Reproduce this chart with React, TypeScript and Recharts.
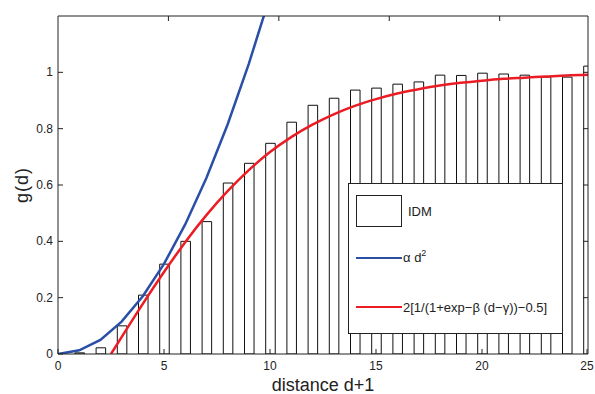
import { ComposedChart, Bar, Line, XAxis, YAxis, Legend } from 'recharts';

// histogram of IDM (bins at d+1 = 1..25)
const binX = [1, 2, 3, 4, 5, 6, 7, 8, 9, 10, 11, 12, 13, 14, 15, 16, 17, 18, 19, 20, 21, 22, 23, 24, 25];
const idmValues = [0.004, 0.022, 0.1, 0.209, 0.319, 0.4, 0.47, 0.607, 0.677, 0.748, 0.823, 0.883, 0.908, 0.937, 0.944, 0.958, 0.966, 0.99, 0.989, 0.997, 0.994, 0.99, 0.983, 0.983, 1.022];

// alpha d^2 fit
const quadX = [0, 1, 2, 3, 4, 5, 6, 7, 8, 9, 10];
const quadY = [0, 0.013, 0.05, 0.115, 0.205, 0.32, 0.46, 0.625, 0.815, 1.03, 1.27];

// logistic fit
const logX = [2.5, 3, 4, 5, 6, 7, 8, 9, 10, 11, 12, 13, 14, 15, 16, 17, 18, 19, 20, 21, 22, 23, 24, 25];
const logY = [0, 0.06, 0.178, 0.291, 0.397, 0.493, 0.578, 0.653, 0.717, 0.77, 0.814, 0.851, 0.881, 0.905, 0.925, 0.94, 0.953, 0.963, 0.97, 0.977, 0.981, 0.985, 0.989, 0.991];

const xTicks = [0, 5, 10, 15, 20, 25];
const yTicks = [0, 0.2, 0.4, 0.6, 0.8, 1];

const barData = binX.map((x, i) => ({ x, idm: idmValues[i] }));
const quadData = quadX.map((x, i) => ({ x, quad: quadY[i] }));
const logData = logX.map((x, i) => ({ x, logi: logY[i] }));

const FONT = '"Liberation Sans", Arial, sans-serif';
const INK = '#222';
const BLUE = '#2a4fa6';
const RED = '#ec1c24';

const BottomTick = (props: any) => {
  const { x, y, payload } = props;
  return (
    <g>
      <line x1={x} y1={y} x2={x} y2={y - 5} stroke={INK} />
      <text x={x} y={y + 16} textAnchor="middle" fontSize={12} fill={INK} fontFamily={FONT}>
        {payload.value}
      </text>
    </g>
  );
};

const LeftTick = (props: any) => {
  const { x, y, payload } = props;
  return (
    <g>
      <line x1={x} y1={y} x2={x + 5} y2={y} stroke={INK} />
      <text x={x - 5} y={y + 4} textAnchor="end" fontSize={12} fill={INK} fontFamily={FONT}>
        {payload.value}
      </text>
    </g>
  );
};

const TopTick = (props: any) => {
  const { x, y } = props;
  return <line x1={x} y1={y} x2={x} y2={y + 5} stroke={INK} />;
};

const RightTick = (props: any) => {
  const { x, y } = props;
  return <line x1={x} y1={y} x2={x - 5} y2={y} stroke={INK} />;
};

const LegendBox = () => (
  <div
    style={{
      width: 215,
      height: 151,
      border: `1px solid ${INK}`,
      background: '#fff',
      boxSizing: 'border-box',
      position: 'relative',
      fontFamily: FONT,
      fontSize: 13,
      color: INK,
      lineHeight: '15px',
      whiteSpace: 'nowrap',
    }}
  >
    <div style={{ position: 'absolute', left: 7, top: 11, width: 46, height: 32, border: `1px solid ${INK}`, boxSizing: 'border-box' }} />
    <span style={{ position: 'absolute', left: 59, top: 20 }}>IDM</span>
    <div style={{ position: 'absolute', left: 7, top: 72.5, width: 46, height: 2.5, background: BLUE }} />
    <span style={{ position: 'absolute', left: 54, top: 66 }}>
      α d<span style={{ fontSize: 9, position: 'relative', top: -6 }}>2</span>
    </span>
    <div style={{ position: 'absolute', left: 7, top: 121.5, width: 46, height: 2.5, background: RED }} />
    <span style={{ position: 'absolute', left: 54, top: 116 }}>2[1/(1+exp−β (d−γ))−0.5]</span>
  </div>
);

export default function App() {
  return (
    <div style={{ position: 'absolute', left: 0, top: 0, width: 595, height: 394, background: '#fff' }}>
      <ComposedChart
        width={595}
        height={394}
        data={barData}
        margin={{ top: 15, right: 6, bottom: 0, left: 8 }}
      >
        <XAxis
          dataKey="x"
          type="number"
          domain={[0, 25]}
          ticks={xTicks}
          allowDataOverflow
          height={40}
          tickSize={0}
          tickMargin={0}
          tickLine={false}
          tick={<BottomTick />}
          axisLine={{ stroke: INK }}
          label={{ value: 'distance d+1', position: 'insideBottom', offset: 3, fontSize: 18, fill: INK, fontFamily: FONT }}
        />
        <XAxis
          xAxisId="top"
          orientation="top"
          type="number"
          domain={[0, 25]}
          ticks={[5, 10, 15, 20]}
          allowDataOverflow
          height={1}
          tickSize={0}
          tickMargin={0}
          tickLine={false}
          tick={<TopTick />}
          axisLine={{ stroke: INK }}
        />
        <YAxis
          type="number"
          domain={[0, 1.2]}
          ticks={yTicks}
          allowDataOverflow
          width={50}
          tickSize={0}
          tickMargin={0}
          tickLine={false}
          tick={<LeftTick />}
          axisLine={{ stroke: INK }}
          label={{ value: 'g(d)', angle: -90, position: 'insideLeft', offset: 14, fontSize: 18, fill: INK, fontFamily: FONT, style: { textAnchor: 'middle', letterSpacing: '1px' } }}
        />
        <YAxis
          yAxisId="right"
          orientation="right"
          type="number"
          domain={[0, 1.2]}
          ticks={[0.2, 0.4, 0.6, 0.8, 1]}
          allowDataOverflow
          width={1}
          tickSize={0}
          tickMargin={0}
          tickLine={false}
          tick={<RightTick />}
          axisLine={{ stroke: INK }}
        />
        <Bar dataKey="idm" name="IDM" fill="#fff" stroke="#111" strokeWidth={1} barSize={17} isAnimationActive={false} />
        <Line data={quadData} dataKey="quad" name="α d²" type="linear" stroke={BLUE} strokeWidth={2.5} dot={false} isAnimationActive={false} />
        <Line data={logData} dataKey="logi" name="logistic" type="monotone" stroke={RED} strokeWidth={2.5} dot={false} isAnimationActive={false} />
        <Legend
          layout="vertical"
          align="center"
          verticalAlign="middle"
          content={<LegendBox />}
          wrapperStyle={{ left: 348, top: 183, width: 215, height: 151 }}
        />
      </ComposedChart>
    </div>
  );
}
